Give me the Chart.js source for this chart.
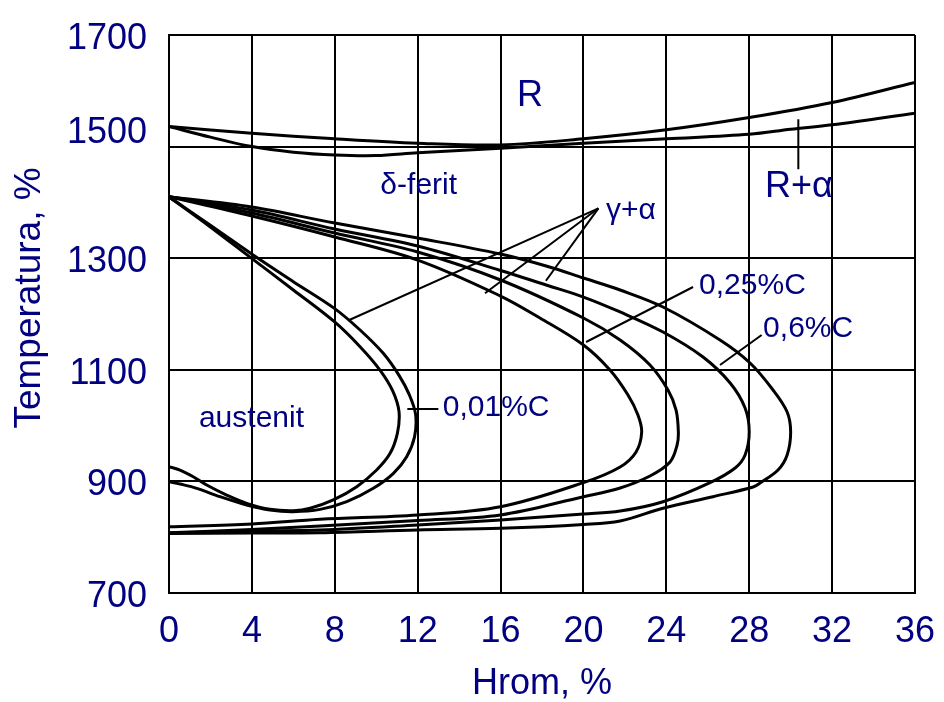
<!DOCTYPE html>
<html><head><meta charset="utf-8">
<script src="https://cdn.jsdelivr.net/npm/chart.js@4"></script>
<style>html,body{margin:0;padding:0;background:#fff;}canvas{display:block;}</style>
</head><body>
<canvas id="c" width="944" height="702"></canvas>
<script>
// ---------- data ----------
const xTickValues = [0, 4, 8, 12, 16, 20, 24, 28, 32, 36];
const yTickValues = [700, 900, 1100, 1300, 1500, 1700];

// liquidus / solidus
const upperX = [0, 4, 8, 12, 16, 20, 24, 28, 32, 36];
const upperY = [1536, 1524, 1514, 1506, 1503, 1514, 1530, 1552, 1579, 1615];
const lowerX = [0, 2, 4, 6, 8, 10, 12, 16, 20, 24, 28, 30, 32, 36];
const lowerY = [1536, 1517, 1500, 1490, 1485, 1484, 1489, 1497, 1506, 1514, 1522, 1531, 1539, 1560];

// 0,01 %C loops
const c001inX = [0, 1.98, 3.99, 6.0, 7.98, 9.22, 10.18, 10.8, 11.1, 11.02, 10.67, 10.02, 9.06, 7.93, 6.81, 6.0, 4.87, 3.75, 2.78, 1.82, 1.17, 0.53, 0];
const c001inY = [1410, 1356.5, 1299.7, 1243, 1186.2, 1141.4, 1099.6, 1062, 1025, 986.1, 950.3, 920.4, 890.5, 866.7, 851.8, 847.5, 850, 860.7, 875.6, 893.5, 908.4, 920.4, 926.3];
const c001outX = [0, 1.98, 3.99, 6.0, 7.98, 9.22, 10.34, 11.1, 11.6, 11.9, 11.85, 11.47, 10.83, 9.86, 8.58, 7.29, 6.0, 4.87, 3.75, 2.46, 1.34, 0.53, 0];
const c001outY = [1410, 1359.5, 1307.5, 1257.9, 1210.1, 1171.3, 1129.5, 1090, 1055, 1020, 980, 944.3, 914.5, 887.6, 863.7, 849.9, 845.8, 848.7, 857.7, 872.6, 887.6, 895.3, 899.5];

// 0,25 %C loops
const c025inX = [0, 4, 8, 12, 16, 17.9, 20, 21.28, 22.15, 22.63, 22.81, 22.54, 21.77, 20, 16, 12, 7.29, 4, 0];
const c025inY = [1410, 1375.6, 1338, 1296.7, 1232.2, 1192.8, 1144.4, 1099.6, 1054.8, 1019, 988.5, 952.7, 925.8, 897.7, 854.6, 839.8, 832.1, 823.6, 818.8];
const c025outX = [0, 4, 8, 12, 16, 20, 21.77, 23.21, 24.08, 24.47, 24.58, 24.52, 24.18, 23.21, 21.77, 20, 16, 12, 7.29, 4, 0];
const c025outY = [1410, 1381, 1345.1, 1311.1, 1260.9, 1192.8, 1153.4, 1108.6, 1063.8, 1027.9, 988.5, 965.2, 934.8, 909.7, 888.2, 872.6, 839.8, 829.9, 820.1, 813.8, 808.1];

// 0,6 %C loops
const c06inX = [0, 4, 8, 12, 16, 18.2, 20, 21.77, 23.84, 25.77, 27.08, 27.8, 28.0, 27.8, 27.32, 26.11, 23.84, 21.77, 20, 16, 12, 7.29, 4, 0];
const c06inY = [1410, 1386.3, 1352.3, 1321.8, 1278, 1251.9, 1230.4, 1203.6, 1167.7, 1122.9, 1076.3, 1031.5, 988.5, 947.3, 924, 897.7, 863.6, 846.9, 841.6, 830.8, 821.9, 812.9, 811.1, 807.5];
const c06outX = [0, 4, 8, 12, 16, 18.2, 20, 21.77, 23.84, 26.59, 28.04, 29.15, 29.83, 30.0, 29.83, 29.39, 28.52, 28.19, 26.25, 23.84, 21.77, 20, 16, 12, 7.29, 4, 0];
const c06outY = [1410, 1391.7, 1363, 1336.2, 1307.5, 1286, 1264.5, 1243, 1212.5, 1153.4, 1112.2, 1063.8, 1024.4, 988.5, 947.3, 920.4, 897.1, 890, 872.6, 851.8, 829, 822.8, 815.9, 812.9, 808.1, 807.5, 806.6];

// leader lines
const lead001X = [11.5, 13.0];      const lead001Y = [1029.7, 1029.7];
const lead025X = [25.29, 20.13];    const lead025Y = [1248.4, 1149.8];
const lead06X = [28.6, 26.59];      const lead06Y = [1162.3, 1108.6];
const leadGa1X = [20.72, 8.70];     const leadGa1Y = [1389.4, 1189.2];
const leadGa2X = [20.72, 15.25];    const leadGa2Y = [1389.4, 1237.1];
const leadGa3X = [20.72, 18.19];    const leadGa3Y = [1389.4, 1259.6];
const leadRaX = [30.37, 30.37];     const leadRaY = [1548.9, 1459.3];

// region / curve labels
const labelTexts = ['R', 'δ-ferit', 'R+α', 'γ+α', '0,25%C', '0,6%C', '0,01%C', 'austenit'];
const labelX = [17.42, 12.05, 30.4, 21.09, 25.58, 28.67, 13.21, 3.98];
const labelY = [1590.6, 1429.3, 1427.6, 1384.5, 1250.1, 1173.1, 1031.5, 1012.7];

const xTitle = 'Hrom, %';
const yTitle = 'Temperatura, %';

// ---------- styling ----------
const NAVY = '#000080';
const FONT = "'Liberation Sans', Arial, Helvetica, sans-serif";
const labelStyle = [
  {size: 36, align: 'center'}, {size: 30, align: 'center'}, {size: 36, align: 'center'},
  {size: 30, align: 'left'}, {size: 30, align: 'left'}, {size: 30, align: 'left'},
  {size: 30, align: 'left'}, {size: 30, align: 'center'}
];

const pts = (xs, ys) => xs.map((x, i) => ({x: x, y: ys[i]}));
const curve = (xs, ys) => ({data: pts(xs, ys), showLine: true, borderColor: '#000', borderWidth: 3,
  pointRadius: 0, tension: 0.35, fill: false});
const lead = (xs, ys) => ({data: pts(xs, ys), showLine: true, borderColor: '#000', borderWidth: 2,
  pointRadius: 0, tension: 0, fill: false});

const datasets = [
  curve(upperX, upperY), curve(lowerX, lowerY),
  curve(c001inX, c001inY), curve(c001outX, c001outY),
  curve(c025inX, c025inY), curve(c025outX, c025outY),
  curve(c06inX, c06inY), curve(c06outX, c06outY),
  lead(lead001X, lead001Y), lead(lead025X, lead025Y), lead(lead06X, lead06Y),
  lead(leadGa1X, leadGa1Y), lead(leadGa2X, leadGa2Y), lead(leadGa3X, leadGa3Y),
  lead(leadRaX, leadRaY)
];

const HIDDEN_Y_LABEL = 1500;
const labelPlugin = {
  id: 'labels',
  afterDatasetsDraw(chart) {
    const {ctx, scales: {x, y}, chartArea} = chart;
    ctx.save();
    ctx.fillStyle = NAVY;
    ctx.textBaseline = 'middle';
    labelTexts.forEach((t, i) => {
      ctx.font = labelStyle[i].size + 'px ' + FONT;
      ctx.textAlign = labelStyle[i].align;
      ctx.fillText(t, x.getPixelForValue(labelX[i]), y.getPixelForValue(labelY[i]));
    });
    // the 1500 tick label sits a little above its grid line in the original
    ctx.font = '36px ' + FONT;
    ctx.textAlign = 'right';
    ctx.fillText(String(HIDDEN_Y_LABEL), y.right - 22, y.getPixelForValue(HIDDEN_Y_LABEL) - 14);
    // y axis title (placed slightly above the centre, as in the original)
    ctx.font = '37px ' + FONT;
    ctx.textAlign = 'center';
    ctx.translate(30, (chartArea.top + chartArea.bottom) / 2 - 16);
    ctx.rotate(-Math.PI / 2);
    ctx.fillText(yTitle, 0, 0);
    ctx.restore();
  }
};

new Chart(document.getElementById('c'), {
  type: 'scatter',
  data: {datasets: datasets},
  plugins: [labelPlugin],
  options: {
    responsive: false,
    animation: false,
    devicePixelRatio: 1,
    layout: {padding: {top: 35, right: 29, left: 0, bottom: 0}},
    plugins: {legend: {display: false}, tooltip: {enabled: false}},
    scales: {
      x: {
        type: 'linear', min: 0, max: 36,
        afterBuildTicks: s => { s.ticks = xTickValues.map(v => ({value: v})); },
        afterFit: s => { s.height = 109; s.paddingLeft = 0; s.paddingRight = 0; },
        grid: {color: '#000', lineWidth: 2, drawTicks: false},
        border: {color: '#000', width: 2},
        ticks: {color: NAVY, font: {family: FONT, size: 36}, padding: 17, maxRotation: 0, autoSkip: false},
        title: {display: true, text: xTitle, color: NAVY, font: {family: FONT, size: 36, lineHeight: 1},
                padding: {top: 0, bottom: 0}}
      },
      y: {
        type: 'linear', min: 700, max: 1700,
        afterBuildTicks: s => { s.ticks = yTickValues.map(v => ({value: v})); },
        afterFit: s => { s.width = 169; s.paddingTop = 0; s.paddingBottom = 0; },
        grid: {color: '#000', lineWidth: 2, drawTicks: false},
        border: {color: '#000', width: 2},
        ticks: {color: NAVY, font: {family: FONT, size: 36}, padding: 22, labelOffset: 4, autoSkip: false,
                callback: v => (v === HIDDEN_Y_LABEL ? '' : String(v))},
        title: {display: false, text: yTitle}
      }
    }
  }
});
</script>
</body></html>
